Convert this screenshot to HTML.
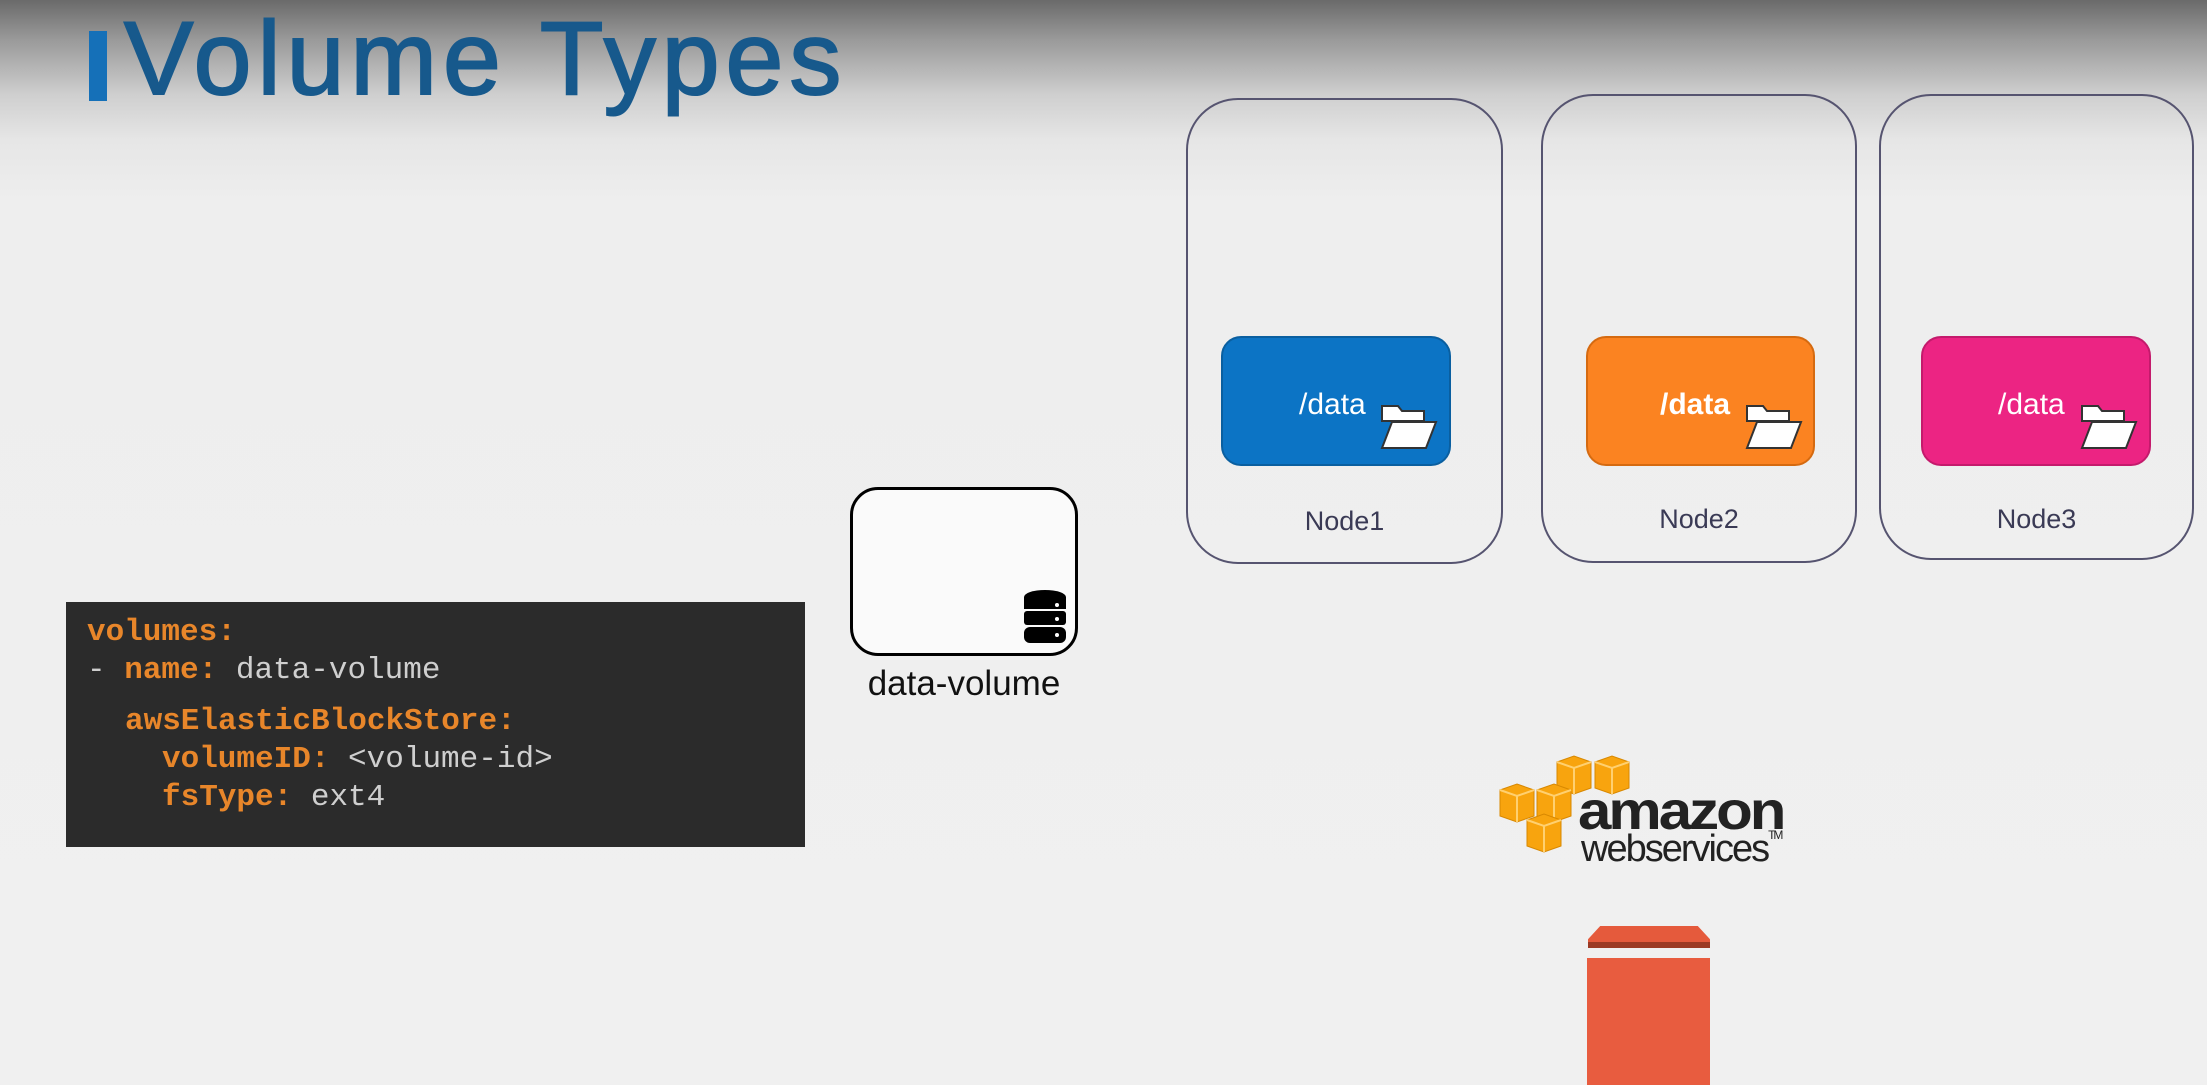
<!DOCTYPE html>
<html><head><style>
body{margin:0;width:2207px;height:1085px;overflow:hidden;position:relative;font-family:"Liberation Sans",sans-serif;
background:linear-gradient(#6a6a6a 0px,#9a9a9a 40px,#cfcfcf 95px,#e6e6e6 140px,#eeeeee 200px,#f0f0f0 100%);}
.a{position:absolute}
.node{position:absolute;border:2px solid #565470;border-radius:52px;box-sizing:border-box}
.inner{position:absolute;border-radius:20px;box-sizing:border-box}
.lbl{position:absolute;width:100%;text-align:center;font-size:27px;color:#3a3a55;top:408px}
.dt{position:absolute;color:#fff;font-size:30px;left:76px;top:50px}
.code{position:absolute;left:66px;top:602px;width:739px;height:245px;background:#2b2b2b;font-family:"Liberation Mono",monospace;font-size:31px;color:#cfcfcf}
.code div{position:absolute;white-space:pre}
.k{color:#e8862a;font-weight:bold}
</style></head><body>
<div class="a" style="left:89px;top:31px;width:18px;height:70px;background:#1570b8"></div>
<div class="a" style="left:124px;top:0px;font-size:104px;color:#17598c;letter-spacing:6px;-webkit-text-stroke:2px #17598c">Volume Types</div>

<div class="node" style="left:1186px;top:98px;width:317px;height:466px">
 <div class="inner" style="left:33px;top:236px;width:230px;height:130px;background:#0c74c5;border:2px solid #0a5fa0"><span class="dt" style="left:76px">/data</span>
 <svg class="a" style="left:155px;top:64px" width="60" height="48" viewBox="0 0 60 48"><path d="M4 4h16l4 5h22v10H4z" fill="#fff" stroke="#333" stroke-width="2"/><path d="M14 20h44l-10 26H4z" fill="#fff" stroke="#333" stroke-width="2"/></svg></div>
 <div class="lbl" style="top:406px">Node1</div></div>
<div class="node" style="left:1541px;top:94px;width:316px;height:469px">
 <div class="inner" style="left:43px;top:240px;width:229px;height:130px;background:#fb8321;border:2px solid #d56a10"><span class="dt" style="left:72px;font-weight:bold">/data</span>
 <svg class="a" style="left:155px;top:64px" width="60" height="48" viewBox="0 0 60 48"><path d="M4 4h16l4 5h22v10H4z" fill="#fff" stroke="#333" stroke-width="2"/><path d="M14 20h44l-10 26H4z" fill="#fff" stroke="#333" stroke-width="2"/></svg></div>
 <div class="lbl">Node2</div></div>
<div class="node" style="left:1879px;top:94px;width:315px;height:466px">
 <div class="inner" style="left:40px;top:240px;width:230px;height:130px;background:#ec2483;border:2px solid #c41a6c"><span class="dt" style="left:75px">/data</span>
 <svg class="a" style="left:155px;top:64px" width="60" height="48" viewBox="0 0 60 48"><path d="M4 4h16l4 5h22v10H4z" fill="#fff" stroke="#333" stroke-width="2"/><path d="M14 20h44l-10 26H4z" fill="#fff" stroke="#333" stroke-width="2"/></svg></div>
 <div class="lbl">Node3</div></div>

<div class="a" style="left:850px;top:487px;width:228px;height:169px;border:3px solid #000;border-radius:28px;box-sizing:border-box;background:#fafafa">
<svg class="a" style="left:170px;top:99px" width="44" height="56" viewBox="0 0 44 56"><g fill="#000"><ellipse cx="22" cy="8" rx="21" ry="7"/><rect x="1" y="8" width="42" height="12"/><rect x="1" y="22" width="42" height="14" rx="3"/><rect x="1" y="38" width="42" height="16" rx="6"/></g><g fill="#fff"><circle cx="34" cy="16" r="2"/><circle cx="34" cy="30" r="2"/><circle cx="34" cy="46" r="2"/></g></svg></div>
<div class="a" style="left:830px;top:664px;width:268px;text-align:center;font-size:35px;color:#111">data-volume</div>

<div class="code">
<div style="left:21px;top:13px"><span class="k">volumes:</span></div>
<div style="left:21px;top:51px">- <span class="k">name:</span> data-volume</div>
<div style="left:59px;top:102px"><span class="k">awsElasticBlockStore:</span></div>
<div style="left:96px;top:140px"><span class="k">volumeID:</span> &lt;volume-id&gt;</div>
<div style="left:96px;top:178px"><span class="k">fsType:</span> ext4</div>
</div>

<svg class="a" style="left:1499px;top:754px" width="140" height="102" viewBox="0 0 140 102">
<defs><g id="c"><path d="M0 6l17-6 17 6v26l-17 6-17-6z" fill="#f8a40e" stroke="#d88800"/><path d="M0 6l17 6 17-6M17 12v26" stroke="#ffd070" stroke-width="2" fill="none"/></g></defs>
<use href="#c" x="58" y="2"/><use href="#c" x="96" y="2"/>
<use href="#c" x="1" y="30"/><use href="#c" x="38" y="30"/>
<use href="#c" x="28" y="60"/></svg>
<div class="a" style="left:1578px;top:776px;font-size:60px;font-weight:bold;color:#222;letter-spacing:-3px;transform:scaleY(0.9)">amazon</div>
<div class="a" style="left:1581px;top:828px;font-size:38px;color:#222;letter-spacing:-2px">webservices<span style="font-size:12px;vertical-align:top">TM</span></div>

<div class="a" style="left:1588px;top:926px;width:122px;height:22px;background:#e55a3c;clip-path:polygon(10% 0,90% 0,100% 60%,100% 100%,0 100%,0 60%)"></div>
<div class="a" style="left:1588px;top:942px;width:122px;height:6px;background:#9b3a24"></div>
<div class="a" style="left:1587px;top:958px;width:123px;height:127px;background:#e85c3f"></div>
</body></html>
